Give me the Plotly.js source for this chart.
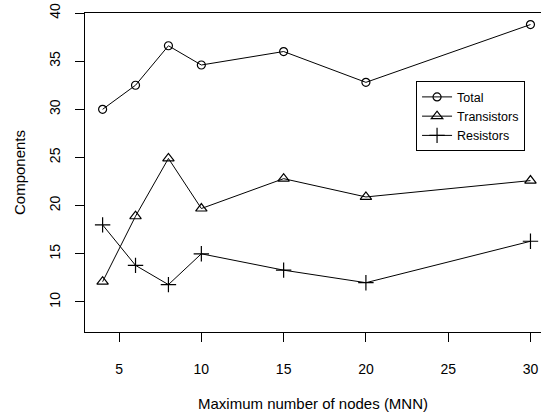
<!DOCTYPE html>
<html>
<head>
<meta charset="utf-8">
<script src="https://cdn.plot.ly/plotly-3.0.1.min.js"></script>
<style>html,body{margin:0;padding:0;background:#fff;}#chart{width:541px;height:415px;}</style>
</head>
<body>
<div id="chart"></div>
<script>
const mnn = [4, 6, 8, 10, 15, 20, 30];
const total = [30.0, 32.5, 36.6, 34.6, 36.0, 32.8, 38.8];
const transistors = [12.1, 18.9, 24.9, 19.7, 22.8, 20.9, 22.6];
const resistors = [18.0, 13.8, 11.8, 15.0, 13.3, 12.0, 16.3];
const xTicks = [5, 10, 15, 20, 25, 30];
const yTicks = [10, 15, 20, 25, 30, 35, 40];

const FONT = 'Liberation Sans, Arial, Helvetica, sans-serif';
const mk = (name, y, symbol, size) => ({
  type: 'scatter', mode: 'lines+markers', name: name, x: mnn, y: y,
  line: {color: '#000', width: 1},
  marker: {symbol: symbol, size: size, color: '#000', line: {color: '#000', width: 1.2}}
});
const data = [
  mk('Total', total, 'circle-open', 8),
  mk('Transistors', transistors, 'triangle-up-open', 10),
  mk('Resistors', resistors, 'cross-thin-open', 11)
];
const layout = {
  width: 541, height: 415,
  margin: {l: 85, r: 0, t: 13, b: 83, pad: 0},
  paper_bgcolor: '#fff', plot_bgcolor: '#fff',
  font: {family: FONT, size: 14, color: '#000'},
  showlegend: true,
  legend: {
    x: 0.726, y: 0.786, xanchor: 'left', yanchor: 'top',
    bordercolor: '#000', borderwidth: 1, bgcolor: '#fff',
    font: {family: FONT, size: 12.5, color: '#000'},
    tracegroupgap: 0
  },
  xaxis: {
    range: [2.93, 30.64], tickvals: xTicks, ticktext: xTicks.map(String),
    showgrid: false, zeroline: false,
    showline: true, mirror: true, linecolor: '#000', linewidth: 1,
    ticks: 'outside', ticklen: 9, tickwidth: 1, tickcolor: '#000',
    ticklabelstandoff: 15,
    tickfont: {family: FONT, size: 14, color: '#000'},
    title: {text: 'Maximum number of nodes (MNN)', font: {family: FONT, size: 15, color: '#000'}, standoff: 22}
  },
  yaxis: {
    range: [6.88, 40.0], tickvals: yTicks, ticktext: yTicks.map(String),
    showgrid: false, zeroline: false,
    showline: true, mirror: false, linecolor: '#000', linewidth: 1,
    ticks: 'outside', ticklen: 9, tickwidth: 1, tickcolor: '#000',
    tickangle: -90, ticklabelstandoff: 9,
    tickfont: {family: FONT, size: 14, color: '#000'},
    title: {text: 'Components', font: {family: FONT, size: 15, color: '#000'}, standoff: 18}
  }
};
Plotly.newPlot('chart', data, layout, {displayModeBar: false, staticPlot: true});
</script>
</body>
</html>
